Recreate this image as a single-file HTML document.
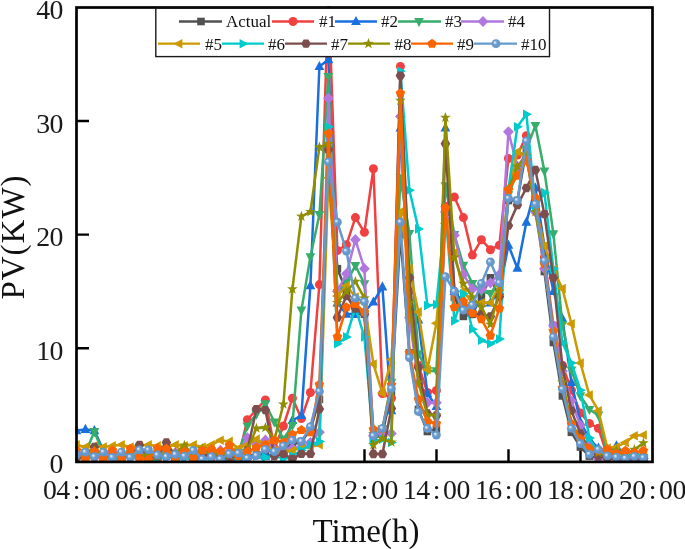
<!DOCTYPE html>
<html lang="en"><head><meta charset="utf-8"><title>PV forecast chart</title>
<style>html,body{margin:0;padding:0;background:#fff}svg{display:block}</style></head>
<body>
<svg width="685" height="549" viewBox="0 0 685 549">
<defs><radialGradient id="sg" cx="0.5" cy="0.5" r="0.5" fx="0.33" fy="0.33"><stop offset="0" stop-color="#eef4fb"/><stop offset="0.18" stop-color="#c4d8ee"/><stop offset="0.45" stop-color="#6c9dd0"/><stop offset="1" stop-color="#6093c8"/></radialGradient><g id="mA"><rect x="-3.8" y="-3.8" width="7.6" height="7.6" fill="#515151"/></g><g id="m1"><circle r="4.5" fill="#F14040"/></g><g id="m2"><polygon points="0.00,-5.60 4.90,3.60 -4.90,3.60" fill="#1A6FDF"/></g><g id="m3"><polygon points="0.00,5.60 4.90,-3.60 -4.90,-3.60" fill="#37AD6B"/></g><g id="m4"><polygon points="0.00,-5.60 5.40,0.00 0.00,5.60 -5.40,0.00" fill="#B177DE"/></g><g id="m5"><polygon points="-5.60,0.00 3.40,-4.80 3.40,4.80" fill="#CC9900"/></g><g id="m6"><polygon points="5.60,0.00 -3.40,-4.80 -3.40,4.80" fill="#00CBCC"/></g><g id="m7"><polygon points="4.80,0.00 2.40,4.16 -2.40,4.16 -4.80,0.00 -2.40,-4.16 2.40,-4.16" fill="#7D4E4E"/></g><g id="m8"><polygon points="0.00,-5.60 1.35,-1.86 5.33,-1.73 2.19,0.71 3.29,4.53 0.00,2.30 -3.29,4.53 -2.19,0.71 -5.33,-1.73 -1.35,-1.86" fill="#8E8E00"/></g><g id="m9"><polygon points="0.00,-5.00 4.76,-1.55 2.94,4.05 -2.94,4.05 -4.76,-1.55" fill="#FB6501"/></g><g id="m10"><circle r="4.4" fill="url(#sg)"/></g><clipPath id="cp"><rect x="75.2" y="6.1" width="578.6" height="457"/></clipPath></defs>
<rect width="685" height="549" fill="#ffffff"/>
<path d="M148.5 461.8 v-12.5 M220.5 461.8 v-12.5 M292.5 461.8 v-12.5 M364.5 461.8 v-12.5 M436.5 461.8 v-12.5 M508.5 461.8 v-12.5 M580.5 461.8 v-12.5 M76.5 348.2 h12.5 M76.5 234.6 h12.5 M76.5 121.0 h12.5" stroke="#000" stroke-width="2.4" fill="none"/>
<g clip-path="url(#cp)">
<polyline points="76.4,456.1 85.4,457.3 94.4,455.0 103.4,458.4 112.4,456.1 121.4,457.3 130.4,455.0 139.4,453.8 148.4,456.1 157.4,457.3 166.4,456.1 175.4,457.3 184.4,455.0 193.4,456.1 202.4,458.4 211.4,457.3 220.4,456.1 229.4,455.0 238.4,456.1 247.4,456.1 256.4,455.0 265.4,451.6 274.4,450.4 283.4,448.2 292.4,444.8 301.4,441.4 310.4,430.0 319.4,399.3 328.4,149.4 337.4,268.7 346.4,291.4 355.4,314.1 364.4,314.1 373.4,439.1 382.4,433.4 391.4,393.6 400.4,234.6 409.4,352.8 418.4,409.5 427.4,431.5 436.4,429.4 445.4,211.9 454.4,297.1 463.4,316.4 472.4,314.1 481.4,296.5 490.4,277.8 499.4,297.1 508.4,200.5 517.4,200.5 526.4,149.4 535.4,205.1 544.4,271.5 553.4,342.5 562.4,395.9 571.4,432.3 580.4,447.0 589.4,456.1 598.4,458.4 607.4,458.4 616.4,458.4 625.4,458.4 634.4,458.4 643.4,458.4" fill="none" stroke="#515151" stroke-width="2.5" stroke-linejoin="round"/>
<g><use href="#mA" x="76.4" y="456.1"/><use href="#mA" x="85.4" y="457.3"/><use href="#mA" x="94.4" y="455.0"/><use href="#mA" x="103.4" y="458.4"/><use href="#mA" x="112.4" y="456.1"/><use href="#mA" x="121.4" y="457.3"/><use href="#mA" x="130.4" y="455.0"/><use href="#mA" x="139.4" y="453.8"/><use href="#mA" x="148.4" y="456.1"/><use href="#mA" x="157.4" y="457.3"/><use href="#mA" x="166.4" y="456.1"/><use href="#mA" x="175.4" y="457.3"/><use href="#mA" x="184.4" y="455.0"/><use href="#mA" x="193.4" y="456.1"/><use href="#mA" x="202.4" y="458.4"/><use href="#mA" x="211.4" y="457.3"/><use href="#mA" x="220.4" y="456.1"/><use href="#mA" x="229.4" y="455.0"/><use href="#mA" x="238.4" y="456.1"/><use href="#mA" x="247.4" y="456.1"/><use href="#mA" x="256.4" y="455.0"/><use href="#mA" x="265.4" y="451.6"/><use href="#mA" x="274.4" y="450.4"/><use href="#mA" x="283.4" y="448.2"/><use href="#mA" x="292.4" y="444.8"/><use href="#mA" x="301.4" y="441.4"/><use href="#mA" x="310.4" y="430.0"/><use href="#mA" x="319.4" y="399.3"/><use href="#mA" x="328.4" y="149.4"/><use href="#mA" x="337.4" y="268.7"/><use href="#mA" x="346.4" y="291.4"/><use href="#mA" x="355.4" y="314.1"/><use href="#mA" x="364.4" y="314.1"/><use href="#mA" x="373.4" y="439.1"/><use href="#mA" x="382.4" y="433.4"/><use href="#mA" x="391.4" y="393.6"/><use href="#mA" x="400.4" y="234.6"/><use href="#mA" x="409.4" y="352.8"/><use href="#mA" x="418.4" y="409.5"/><use href="#mA" x="427.4" y="431.5"/><use href="#mA" x="436.4" y="429.4"/><use href="#mA" x="445.4" y="211.9"/><use href="#mA" x="454.4" y="297.1"/><use href="#mA" x="463.4" y="316.4"/><use href="#mA" x="472.4" y="314.1"/><use href="#mA" x="481.4" y="296.5"/><use href="#mA" x="490.4" y="277.8"/><use href="#mA" x="499.4" y="297.1"/><use href="#mA" x="508.4" y="200.5"/><use href="#mA" x="517.4" y="200.5"/><use href="#mA" x="526.4" y="149.4"/><use href="#mA" x="535.4" y="205.1"/><use href="#mA" x="544.4" y="271.5"/><use href="#mA" x="553.4" y="342.5"/><use href="#mA" x="562.4" y="395.9"/><use href="#mA" x="571.4" y="432.3"/><use href="#mA" x="580.4" y="447.0"/><use href="#mA" x="589.4" y="456.1"/><use href="#mA" x="598.4" y="458.4"/><use href="#mA" x="607.4" y="458.4"/><use href="#mA" x="616.4" y="458.4"/><use href="#mA" x="625.4" y="458.4"/><use href="#mA" x="634.4" y="458.4"/><use href="#mA" x="643.4" y="458.4"/></g>
<polyline points="76.4,455.0 85.4,456.1 94.4,457.3 103.4,455.0 112.4,458.4 121.4,456.1 130.4,455.0 139.4,457.3 148.4,456.1 157.4,458.4 166.4,455.0 175.4,457.3 184.4,456.1 193.4,458.4 202.4,456.1 211.4,457.3 220.4,458.4 229.4,460.7 238.4,457.3 247.4,419.8 256.4,409.5 265.4,399.9 274.4,448.2 283.4,426.0 292.4,398.2 301.4,418.6 310.4,392.5 319.4,284.6 328.4,-9.6 337.4,250.5 346.4,244.8 355.4,217.6 364.4,232.3 373.4,168.7 382.4,393.6 391.4,398.2 400.4,66.5 409.4,291.4 418.4,365.2 427.4,392.5 436.4,390.5 445.4,206.2 454.4,197.1 463.4,217.6 472.4,255.1 481.4,239.7 490.4,249.7 499.4,245.2 508.4,158.5 517.4,155.1 526.4,135.8 535.4,200.5 544.4,257.3 553.4,325.5 562.4,365.2 571.4,390.2 580.4,413.0 589.4,423.5 598.4,428.2 607.4,456.1 616.4,458.4 625.4,458.4 634.4,458.4 643.4,458.4" fill="none" stroke="#F14040" stroke-width="2.5" stroke-linejoin="round"/>
<g><use href="#m1" x="76.4" y="455.0"/><use href="#m1" x="85.4" y="456.1"/><use href="#m1" x="94.4" y="457.3"/><use href="#m1" x="103.4" y="455.0"/><use href="#m1" x="112.4" y="458.4"/><use href="#m1" x="121.4" y="456.1"/><use href="#m1" x="130.4" y="455.0"/><use href="#m1" x="139.4" y="457.3"/><use href="#m1" x="148.4" y="456.1"/><use href="#m1" x="157.4" y="458.4"/><use href="#m1" x="166.4" y="455.0"/><use href="#m1" x="175.4" y="457.3"/><use href="#m1" x="184.4" y="456.1"/><use href="#m1" x="193.4" y="458.4"/><use href="#m1" x="202.4" y="456.1"/><use href="#m1" x="211.4" y="457.3"/><use href="#m1" x="220.4" y="458.4"/><use href="#m1" x="229.4" y="460.7"/><use href="#m1" x="238.4" y="457.3"/><use href="#m1" x="247.4" y="419.8"/><use href="#m1" x="256.4" y="409.5"/><use href="#m1" x="265.4" y="399.9"/><use href="#m1" x="274.4" y="448.2"/><use href="#m1" x="283.4" y="426.0"/><use href="#m1" x="292.4" y="398.2"/><use href="#m1" x="301.4" y="418.6"/><use href="#m1" x="310.4" y="392.5"/><use href="#m1" x="319.4" y="284.6"/><use href="#m1" x="328.4" y="-9.6"/><use href="#m1" x="337.4" y="250.5"/><use href="#m1" x="346.4" y="244.8"/><use href="#m1" x="355.4" y="217.6"/><use href="#m1" x="364.4" y="232.3"/><use href="#m1" x="373.4" y="168.7"/><use href="#m1" x="382.4" y="393.6"/><use href="#m1" x="391.4" y="398.2"/><use href="#m1" x="400.4" y="66.5"/><use href="#m1" x="409.4" y="291.4"/><use href="#m1" x="418.4" y="365.2"/><use href="#m1" x="427.4" y="392.5"/><use href="#m1" x="436.4" y="390.5"/><use href="#m1" x="445.4" y="206.2"/><use href="#m1" x="454.4" y="197.1"/><use href="#m1" x="463.4" y="217.6"/><use href="#m1" x="472.4" y="255.1"/><use href="#m1" x="481.4" y="239.7"/><use href="#m1" x="490.4" y="249.7"/><use href="#m1" x="499.4" y="245.2"/><use href="#m1" x="508.4" y="158.5"/><use href="#m1" x="517.4" y="155.1"/><use href="#m1" x="526.4" y="135.8"/><use href="#m1" x="535.4" y="200.5"/><use href="#m1" x="544.4" y="257.3"/><use href="#m1" x="553.4" y="325.5"/><use href="#m1" x="562.4" y="365.2"/><use href="#m1" x="571.4" y="390.2"/><use href="#m1" x="580.4" y="413.0"/><use href="#m1" x="589.4" y="423.5"/><use href="#m1" x="598.4" y="428.2"/><use href="#m1" x="607.4" y="456.1"/><use href="#m1" x="616.4" y="458.4"/><use href="#m1" x="625.4" y="458.4"/><use href="#m1" x="634.4" y="458.4"/><use href="#m1" x="643.4" y="458.4"/></g>
<polyline points="76.4,430.6 85.4,429.4 94.4,430.6 103.4,450.4 112.4,456.1 121.4,457.3 130.4,455.0 139.4,456.1 148.4,457.3 157.4,456.1 166.4,455.0 175.4,457.3 184.4,456.1 193.4,457.3 202.4,456.1 211.4,455.0 220.4,457.3 229.4,456.1 238.4,457.3 247.4,456.1 256.4,455.0 265.4,456.1 274.4,453.8 283.4,448.2 292.4,420.3 301.4,415.5 310.4,285.7 319.4,66.5 328.4,59.7 337.4,302.8 346.4,314.1 355.4,314.1 364.4,311.9 373.4,302.0 382.4,286.9 391.4,410.7 400.4,127.8 409.4,302.8 418.4,319.8 427.4,393.6 436.4,406.5 445.4,127.8 454.4,291.4 463.4,302.8 472.4,308.5 481.4,302.8 490.4,302.8 499.4,291.4 508.4,245.2 517.4,268.2 526.4,222.1 535.4,188.0 544.4,246.0 553.4,291.4 562.4,318.7 571.4,382.3 580.4,422.0 589.4,439.1 598.4,448.2 607.4,452.7 616.4,445.9 625.4,457.3 634.4,457.3 643.4,457.3" fill="none" stroke="#1A6FDF" stroke-width="2.5" stroke-linejoin="round"/>
<g><use href="#m2" x="76.4" y="430.6"/><use href="#m2" x="85.4" y="429.4"/><use href="#m2" x="94.4" y="430.6"/><use href="#m2" x="103.4" y="450.4"/><use href="#m2" x="112.4" y="456.1"/><use href="#m2" x="121.4" y="457.3"/><use href="#m2" x="130.4" y="455.0"/><use href="#m2" x="139.4" y="456.1"/><use href="#m2" x="148.4" y="457.3"/><use href="#m2" x="157.4" y="456.1"/><use href="#m2" x="166.4" y="455.0"/><use href="#m2" x="175.4" y="457.3"/><use href="#m2" x="184.4" y="456.1"/><use href="#m2" x="193.4" y="457.3"/><use href="#m2" x="202.4" y="456.1"/><use href="#m2" x="211.4" y="455.0"/><use href="#m2" x="220.4" y="457.3"/><use href="#m2" x="229.4" y="456.1"/><use href="#m2" x="238.4" y="457.3"/><use href="#m2" x="247.4" y="456.1"/><use href="#m2" x="256.4" y="455.0"/><use href="#m2" x="265.4" y="456.1"/><use href="#m2" x="274.4" y="453.8"/><use href="#m2" x="283.4" y="448.2"/><use href="#m2" x="292.4" y="420.3"/><use href="#m2" x="301.4" y="415.5"/><use href="#m2" x="310.4" y="285.7"/><use href="#m2" x="319.4" y="66.5"/><use href="#m2" x="328.4" y="59.7"/><use href="#m2" x="337.4" y="302.8"/><use href="#m2" x="346.4" y="314.1"/><use href="#m2" x="355.4" y="314.1"/><use href="#m2" x="364.4" y="311.9"/><use href="#m2" x="373.4" y="302.0"/><use href="#m2" x="382.4" y="286.9"/><use href="#m2" x="391.4" y="410.7"/><use href="#m2" x="400.4" y="127.8"/><use href="#m2" x="409.4" y="302.8"/><use href="#m2" x="418.4" y="319.8"/><use href="#m2" x="427.4" y="393.6"/><use href="#m2" x="436.4" y="406.5"/><use href="#m2" x="445.4" y="127.8"/><use href="#m2" x="454.4" y="291.4"/><use href="#m2" x="463.4" y="302.8"/><use href="#m2" x="472.4" y="308.5"/><use href="#m2" x="481.4" y="302.8"/><use href="#m2" x="490.4" y="302.8"/><use href="#m2" x="499.4" y="291.4"/><use href="#m2" x="508.4" y="245.2"/><use href="#m2" x="517.4" y="268.2"/><use href="#m2" x="526.4" y="222.1"/><use href="#m2" x="535.4" y="188.0"/><use href="#m2" x="544.4" y="246.0"/><use href="#m2" x="553.4" y="291.4"/><use href="#m2" x="562.4" y="318.7"/><use href="#m2" x="571.4" y="382.3"/><use href="#m2" x="580.4" y="422.0"/><use href="#m2" x="589.4" y="439.1"/><use href="#m2" x="598.4" y="448.2"/><use href="#m2" x="607.4" y="452.7"/><use href="#m2" x="616.4" y="445.9"/><use href="#m2" x="625.4" y="457.3"/><use href="#m2" x="634.4" y="457.3"/><use href="#m2" x="643.4" y="457.3"/></g>
<polyline points="76.4,452.7 85.4,452.7 94.4,431.7 103.4,453.8 112.4,455.0 121.4,456.1 130.4,453.8 139.4,455.0 148.4,456.1 157.4,455.0 166.4,453.8 175.4,456.1 184.4,455.0 193.4,453.8 202.4,456.1 211.4,455.0 220.4,456.1 229.4,453.8 238.4,452.7 247.4,426.0 256.4,414.1 265.4,403.9 274.4,422.0 283.4,439.1 292.4,425.5 301.4,310.2 310.4,256.8 319.4,214.7 328.4,76.7 337.4,292.6 346.4,282.3 355.4,265.6 364.4,283.8 373.4,435.7 382.4,428.9 391.4,382.3 400.4,177.8 409.4,233.5 418.4,353.9 427.4,370.9 436.4,370.9 445.4,185.8 454.4,234.6 463.4,265.3 472.4,283.5 481.4,291.4 490.4,293.7 499.4,280.1 508.4,194.9 517.4,172.1 526.4,149.4 535.4,125.6 544.4,171.0 553.4,233.8 562.4,324.7 571.4,370.2 580.4,395.9 589.4,409.5 598.4,415.2 607.4,455.0 616.4,457.3 625.4,457.3 634.4,457.3 643.4,457.3" fill="none" stroke="#37AD6B" stroke-width="2.5" stroke-linejoin="round"/>
<g><use href="#m3" x="76.4" y="452.7"/><use href="#m3" x="85.4" y="452.7"/><use href="#m3" x="94.4" y="431.7"/><use href="#m3" x="103.4" y="453.8"/><use href="#m3" x="112.4" y="455.0"/><use href="#m3" x="121.4" y="456.1"/><use href="#m3" x="130.4" y="453.8"/><use href="#m3" x="139.4" y="455.0"/><use href="#m3" x="148.4" y="456.1"/><use href="#m3" x="157.4" y="455.0"/><use href="#m3" x="166.4" y="453.8"/><use href="#m3" x="175.4" y="456.1"/><use href="#m3" x="184.4" y="455.0"/><use href="#m3" x="193.4" y="453.8"/><use href="#m3" x="202.4" y="456.1"/><use href="#m3" x="211.4" y="455.0"/><use href="#m3" x="220.4" y="456.1"/><use href="#m3" x="229.4" y="453.8"/><use href="#m3" x="238.4" y="452.7"/><use href="#m3" x="247.4" y="426.0"/><use href="#m3" x="256.4" y="414.1"/><use href="#m3" x="265.4" y="403.9"/><use href="#m3" x="274.4" y="422.0"/><use href="#m3" x="283.4" y="439.1"/><use href="#m3" x="292.4" y="425.5"/><use href="#m3" x="301.4" y="310.2"/><use href="#m3" x="310.4" y="256.8"/><use href="#m3" x="319.4" y="214.7"/><use href="#m3" x="328.4" y="76.7"/><use href="#m3" x="337.4" y="292.6"/><use href="#m3" x="346.4" y="282.3"/><use href="#m3" x="355.4" y="265.6"/><use href="#m3" x="364.4" y="283.8"/><use href="#m3" x="373.4" y="435.7"/><use href="#m3" x="382.4" y="428.9"/><use href="#m3" x="391.4" y="382.3"/><use href="#m3" x="400.4" y="177.8"/><use href="#m3" x="409.4" y="233.5"/><use href="#m3" x="418.4" y="353.9"/><use href="#m3" x="427.4" y="370.9"/><use href="#m3" x="436.4" y="370.9"/><use href="#m3" x="445.4" y="185.8"/><use href="#m3" x="454.4" y="234.6"/><use href="#m3" x="463.4" y="265.3"/><use href="#m3" x="472.4" y="283.5"/><use href="#m3" x="481.4" y="291.4"/><use href="#m3" x="490.4" y="293.7"/><use href="#m3" x="499.4" y="280.1"/><use href="#m3" x="508.4" y="194.9"/><use href="#m3" x="517.4" y="172.1"/><use href="#m3" x="526.4" y="149.4"/><use href="#m3" x="535.4" y="125.6"/><use href="#m3" x="544.4" y="171.0"/><use href="#m3" x="553.4" y="233.8"/><use href="#m3" x="562.4" y="324.7"/><use href="#m3" x="571.4" y="370.2"/><use href="#m3" x="580.4" y="395.9"/><use href="#m3" x="589.4" y="409.5"/><use href="#m3" x="598.4" y="415.2"/><use href="#m3" x="607.4" y="455.0"/><use href="#m3" x="616.4" y="457.3"/><use href="#m3" x="625.4" y="457.3"/><use href="#m3" x="634.4" y="457.3"/><use href="#m3" x="643.4" y="457.3"/></g>
<polyline points="76.4,452.7 85.4,453.8 94.4,455.0 103.4,452.7 112.4,451.6 121.4,453.8 130.4,455.0 139.4,452.7 148.4,453.8 157.4,451.6 166.4,453.8 175.4,452.7 184.4,450.4 193.4,453.8 202.4,452.7 211.4,451.6 220.4,450.4 229.4,451.6 238.4,452.7 247.4,437.9 256.4,444.8 265.4,440.2 274.4,449.3 283.4,450.4 292.4,448.2 301.4,447.0 310.4,442.5 319.4,432.3 328.4,98.3 337.4,291.4 346.4,273.8 355.4,239.7 364.4,268.7 373.4,435.7 382.4,432.3 391.4,433.4 400.4,116.5 409.4,317.5 418.4,382.3 427.4,402.7 436.4,402.7 445.4,211.9 454.4,235.2 463.4,274.4 472.4,289.1 481.4,289.1 490.4,282.8 499.4,274.4 508.4,131.8 517.4,166.5 526.4,155.1 535.4,211.9 544.4,268.7 553.4,325.5 562.4,370.9 571.4,401.0 580.4,425.5 589.4,444.8 598.4,459.0 607.4,458.4 616.4,458.4 625.4,458.4 634.4,458.4 643.4,458.4" fill="none" stroke="#B177DE" stroke-width="2.5" stroke-linejoin="round"/>
<g><use href="#m4" x="76.4" y="452.7"/><use href="#m4" x="85.4" y="453.8"/><use href="#m4" x="94.4" y="455.0"/><use href="#m4" x="103.4" y="452.7"/><use href="#m4" x="112.4" y="451.6"/><use href="#m4" x="121.4" y="453.8"/><use href="#m4" x="130.4" y="455.0"/><use href="#m4" x="139.4" y="452.7"/><use href="#m4" x="148.4" y="453.8"/><use href="#m4" x="157.4" y="451.6"/><use href="#m4" x="166.4" y="453.8"/><use href="#m4" x="175.4" y="452.7"/><use href="#m4" x="184.4" y="450.4"/><use href="#m4" x="193.4" y="453.8"/><use href="#m4" x="202.4" y="452.7"/><use href="#m4" x="211.4" y="451.6"/><use href="#m4" x="220.4" y="450.4"/><use href="#m4" x="229.4" y="451.6"/><use href="#m4" x="238.4" y="452.7"/><use href="#m4" x="247.4" y="437.9"/><use href="#m4" x="256.4" y="444.8"/><use href="#m4" x="265.4" y="440.2"/><use href="#m4" x="274.4" y="449.3"/><use href="#m4" x="283.4" y="450.4"/><use href="#m4" x="292.4" y="448.2"/><use href="#m4" x="301.4" y="447.0"/><use href="#m4" x="310.4" y="442.5"/><use href="#m4" x="319.4" y="432.3"/><use href="#m4" x="328.4" y="98.3"/><use href="#m4" x="337.4" y="291.4"/><use href="#m4" x="346.4" y="273.8"/><use href="#m4" x="355.4" y="239.7"/><use href="#m4" x="364.4" y="268.7"/><use href="#m4" x="373.4" y="435.7"/><use href="#m4" x="382.4" y="432.3"/><use href="#m4" x="391.4" y="433.4"/><use href="#m4" x="400.4" y="116.5"/><use href="#m4" x="409.4" y="317.5"/><use href="#m4" x="418.4" y="382.3"/><use href="#m4" x="427.4" y="402.7"/><use href="#m4" x="436.4" y="402.7"/><use href="#m4" x="445.4" y="211.9"/><use href="#m4" x="454.4" y="235.2"/><use href="#m4" x="463.4" y="274.4"/><use href="#m4" x="472.4" y="289.1"/><use href="#m4" x="481.4" y="289.1"/><use href="#m4" x="490.4" y="282.8"/><use href="#m4" x="499.4" y="274.4"/><use href="#m4" x="508.4" y="131.8"/><use href="#m4" x="517.4" y="166.5"/><use href="#m4" x="526.4" y="155.1"/><use href="#m4" x="535.4" y="211.9"/><use href="#m4" x="544.4" y="268.7"/><use href="#m4" x="553.4" y="325.5"/><use href="#m4" x="562.4" y="370.9"/><use href="#m4" x="571.4" y="401.0"/><use href="#m4" x="580.4" y="425.5"/><use href="#m4" x="589.4" y="444.8"/><use href="#m4" x="598.4" y="459.0"/><use href="#m4" x="607.4" y="458.4"/><use href="#m4" x="616.4" y="458.4"/><use href="#m4" x="625.4" y="458.4"/><use href="#m4" x="634.4" y="458.4"/><use href="#m4" x="643.4" y="458.4"/></g>
<polyline points="76.4,444.8 85.4,447.0 94.4,445.9 103.4,447.0 112.4,445.9 121.4,444.8 130.4,447.0 139.4,445.9 148.4,444.8 157.4,445.9 166.4,447.0 175.4,444.8 184.4,445.9 193.4,444.8 202.4,447.0 211.4,444.8 220.4,440.2 229.4,441.4 238.4,448.2 247.4,444.8 256.4,439.1 265.4,444.8 274.4,450.4 283.4,452.7 292.4,450.4 301.4,448.2 310.4,447.0 319.4,444.8 328.4,177.8 337.4,296.0 346.4,285.7 355.4,297.1 364.4,302.8 373.4,364.1 382.4,393.1 391.4,359.6 400.4,211.9 409.4,268.7 418.4,311.9 427.4,369.8 436.4,323.2 445.4,223.3 454.4,252.8 463.4,291.4 472.4,302.8 481.4,302.8 490.4,302.8 499.4,285.7 508.4,189.2 517.4,151.7 526.4,155.1 535.4,206.2 544.4,246.0 553.4,269.8 562.4,288.6 571.4,323.7 580.4,363.0 589.4,395.1 598.4,410.7 607.4,448.2 616.4,447.0 625.4,442.5 634.4,435.7 643.4,435.0" fill="none" stroke="#CC9900" stroke-width="2.5" stroke-linejoin="round"/>
<g><use href="#m5" x="76.4" y="444.8"/><use href="#m5" x="85.4" y="447.0"/><use href="#m5" x="94.4" y="445.9"/><use href="#m5" x="103.4" y="447.0"/><use href="#m5" x="112.4" y="445.9"/><use href="#m5" x="121.4" y="444.8"/><use href="#m5" x="130.4" y="447.0"/><use href="#m5" x="139.4" y="445.9"/><use href="#m5" x="148.4" y="444.8"/><use href="#m5" x="157.4" y="445.9"/><use href="#m5" x="166.4" y="447.0"/><use href="#m5" x="175.4" y="444.8"/><use href="#m5" x="184.4" y="445.9"/><use href="#m5" x="193.4" y="444.8"/><use href="#m5" x="202.4" y="447.0"/><use href="#m5" x="211.4" y="444.8"/><use href="#m5" x="220.4" y="440.2"/><use href="#m5" x="229.4" y="441.4"/><use href="#m5" x="238.4" y="448.2"/><use href="#m5" x="247.4" y="444.8"/><use href="#m5" x="256.4" y="439.1"/><use href="#m5" x="265.4" y="444.8"/><use href="#m5" x="274.4" y="450.4"/><use href="#m5" x="283.4" y="452.7"/><use href="#m5" x="292.4" y="450.4"/><use href="#m5" x="301.4" y="448.2"/><use href="#m5" x="310.4" y="447.0"/><use href="#m5" x="319.4" y="444.8"/><use href="#m5" x="328.4" y="177.8"/><use href="#m5" x="337.4" y="296.0"/><use href="#m5" x="346.4" y="285.7"/><use href="#m5" x="355.4" y="297.1"/><use href="#m5" x="364.4" y="302.8"/><use href="#m5" x="373.4" y="364.1"/><use href="#m5" x="382.4" y="393.1"/><use href="#m5" x="391.4" y="359.6"/><use href="#m5" x="400.4" y="211.9"/><use href="#m5" x="409.4" y="268.7"/><use href="#m5" x="418.4" y="311.9"/><use href="#m5" x="427.4" y="369.8"/><use href="#m5" x="436.4" y="323.2"/><use href="#m5" x="445.4" y="223.3"/><use href="#m5" x="454.4" y="252.8"/><use href="#m5" x="463.4" y="291.4"/><use href="#m5" x="472.4" y="302.8"/><use href="#m5" x="481.4" y="302.8"/><use href="#m5" x="490.4" y="302.8"/><use href="#m5" x="499.4" y="285.7"/><use href="#m5" x="508.4" y="189.2"/><use href="#m5" x="517.4" y="151.7"/><use href="#m5" x="526.4" y="155.1"/><use href="#m5" x="535.4" y="206.2"/><use href="#m5" x="544.4" y="246.0"/><use href="#m5" x="553.4" y="269.8"/><use href="#m5" x="562.4" y="288.6"/><use href="#m5" x="571.4" y="323.7"/><use href="#m5" x="580.4" y="363.0"/><use href="#m5" x="589.4" y="395.1"/><use href="#m5" x="598.4" y="410.7"/><use href="#m5" x="607.4" y="448.2"/><use href="#m5" x="616.4" y="447.0"/><use href="#m5" x="625.4" y="442.5"/><use href="#m5" x="634.4" y="435.7"/><use href="#m5" x="643.4" y="435.0"/></g>
<polyline points="76.4,457.3 85.4,458.4 94.4,456.1 103.4,457.3 112.4,458.4 121.4,457.3 130.4,456.1 139.4,458.4 148.4,457.3 157.4,458.4 166.4,457.3 175.4,456.1 184.4,458.4 193.4,457.3 202.4,458.4 211.4,457.3 220.4,458.4 229.4,457.3 238.4,458.4 247.4,457.3 256.4,456.1 265.4,457.3 274.4,456.1 283.4,458.4 292.4,456.1 301.4,450.4 310.4,444.8 319.4,441.4 328.4,126.7 337.4,343.7 346.4,336.9 355.4,307.3 364.4,336.9 373.4,441.4 382.4,439.1 391.4,442.5 400.4,71.1 409.4,190.3 418.4,228.9 427.4,305.6 436.4,304.6 445.4,211.9 454.4,320.9 463.4,293.7 472.4,329.2 481.4,340.3 490.4,343.7 499.4,339.1 508.4,189.2 517.4,126.7 526.4,114.2 535.4,206.2 544.4,192.6 553.4,268.7 562.4,342.5 571.4,363.0 580.4,390.2 589.4,437.9 598.4,455.0 607.4,458.4 616.4,458.4 625.4,456.1 634.4,452.7 643.4,456.1" fill="none" stroke="#00CBCC" stroke-width="2.5" stroke-linejoin="round"/>
<g><use href="#m6" x="76.4" y="457.3"/><use href="#m6" x="85.4" y="458.4"/><use href="#m6" x="94.4" y="456.1"/><use href="#m6" x="103.4" y="457.3"/><use href="#m6" x="112.4" y="458.4"/><use href="#m6" x="121.4" y="457.3"/><use href="#m6" x="130.4" y="456.1"/><use href="#m6" x="139.4" y="458.4"/><use href="#m6" x="148.4" y="457.3"/><use href="#m6" x="157.4" y="458.4"/><use href="#m6" x="166.4" y="457.3"/><use href="#m6" x="175.4" y="456.1"/><use href="#m6" x="184.4" y="458.4"/><use href="#m6" x="193.4" y="457.3"/><use href="#m6" x="202.4" y="458.4"/><use href="#m6" x="211.4" y="457.3"/><use href="#m6" x="220.4" y="458.4"/><use href="#m6" x="229.4" y="457.3"/><use href="#m6" x="238.4" y="458.4"/><use href="#m6" x="247.4" y="457.3"/><use href="#m6" x="256.4" y="456.1"/><use href="#m6" x="265.4" y="457.3"/><use href="#m6" x="274.4" y="456.1"/><use href="#m6" x="283.4" y="458.4"/><use href="#m6" x="292.4" y="456.1"/><use href="#m6" x="301.4" y="450.4"/><use href="#m6" x="310.4" y="444.8"/><use href="#m6" x="319.4" y="441.4"/><use href="#m6" x="328.4" y="126.7"/><use href="#m6" x="337.4" y="343.7"/><use href="#m6" x="346.4" y="336.9"/><use href="#m6" x="355.4" y="307.3"/><use href="#m6" x="364.4" y="336.9"/><use href="#m6" x="373.4" y="441.4"/><use href="#m6" x="382.4" y="439.1"/><use href="#m6" x="391.4" y="442.5"/><use href="#m6" x="400.4" y="71.1"/><use href="#m6" x="409.4" y="190.3"/><use href="#m6" x="418.4" y="228.9"/><use href="#m6" x="427.4" y="305.6"/><use href="#m6" x="436.4" y="304.6"/><use href="#m6" x="445.4" y="211.9"/><use href="#m6" x="454.4" y="320.9"/><use href="#m6" x="463.4" y="293.7"/><use href="#m6" x="472.4" y="329.2"/><use href="#m6" x="481.4" y="340.3"/><use href="#m6" x="490.4" y="343.7"/><use href="#m6" x="499.4" y="339.1"/><use href="#m6" x="508.4" y="189.2"/><use href="#m6" x="517.4" y="126.7"/><use href="#m6" x="526.4" y="114.2"/><use href="#m6" x="535.4" y="206.2"/><use href="#m6" x="544.4" y="192.6"/><use href="#m6" x="553.4" y="268.7"/><use href="#m6" x="562.4" y="342.5"/><use href="#m6" x="571.4" y="363.0"/><use href="#m6" x="580.4" y="390.2"/><use href="#m6" x="589.4" y="437.9"/><use href="#m6" x="598.4" y="455.0"/><use href="#m6" x="607.4" y="458.4"/><use href="#m6" x="616.4" y="458.4"/><use href="#m6" x="625.4" y="456.1"/><use href="#m6" x="634.4" y="452.7"/><use href="#m6" x="643.4" y="456.1"/></g>
<polyline points="76.4,458.4 85.4,456.1 94.4,447.0 103.4,457.3 112.4,456.1 121.4,457.3 130.4,456.1 139.4,444.8 148.4,458.4 157.4,456.1 166.4,442.5 175.4,456.1 184.4,455.0 193.4,457.3 202.4,456.1 211.4,455.0 220.4,456.1 229.4,457.3 238.4,456.1 247.4,450.4 256.4,409.1 265.4,410.1 274.4,456.1 283.4,453.8 292.4,458.8 301.4,453.8 310.4,453.8 319.4,409.1 328.4,149.4 337.4,317.5 346.4,296.0 355.4,308.5 364.4,314.1 373.4,454.0 382.4,454.0 391.4,408.4 400.4,75.6 409.4,277.8 418.4,367.5 427.4,413.5 436.4,415.5 445.4,143.7 454.4,291.4 463.4,308.5 472.4,314.1 481.4,314.1 490.4,316.4 499.4,296.5 508.4,225.5 517.4,205.1 526.4,188.0 535.4,169.9 544.4,214.2 553.4,277.8 562.4,366.4 571.4,410.7 580.4,433.4 589.4,450.4 598.4,456.1 607.4,458.4 616.4,458.4 625.4,458.4 634.4,458.4 643.4,458.4" fill="none" stroke="#7D4E4E" stroke-width="2.5" stroke-linejoin="round"/>
<g><use href="#m7" x="76.4" y="458.4"/><use href="#m7" x="85.4" y="456.1"/><use href="#m7" x="94.4" y="447.0"/><use href="#m7" x="103.4" y="457.3"/><use href="#m7" x="112.4" y="456.1"/><use href="#m7" x="121.4" y="457.3"/><use href="#m7" x="130.4" y="456.1"/><use href="#m7" x="139.4" y="444.8"/><use href="#m7" x="148.4" y="458.4"/><use href="#m7" x="157.4" y="456.1"/><use href="#m7" x="166.4" y="442.5"/><use href="#m7" x="175.4" y="456.1"/><use href="#m7" x="184.4" y="455.0"/><use href="#m7" x="193.4" y="457.3"/><use href="#m7" x="202.4" y="456.1"/><use href="#m7" x="211.4" y="455.0"/><use href="#m7" x="220.4" y="456.1"/><use href="#m7" x="229.4" y="457.3"/><use href="#m7" x="238.4" y="456.1"/><use href="#m7" x="247.4" y="450.4"/><use href="#m7" x="256.4" y="409.1"/><use href="#m7" x="265.4" y="410.1"/><use href="#m7" x="274.4" y="456.1"/><use href="#m7" x="283.4" y="453.8"/><use href="#m7" x="292.4" y="458.8"/><use href="#m7" x="301.4" y="453.8"/><use href="#m7" x="310.4" y="453.8"/><use href="#m7" x="319.4" y="409.1"/><use href="#m7" x="328.4" y="149.4"/><use href="#m7" x="337.4" y="317.5"/><use href="#m7" x="346.4" y="296.0"/><use href="#m7" x="355.4" y="308.5"/><use href="#m7" x="364.4" y="314.1"/><use href="#m7" x="373.4" y="454.0"/><use href="#m7" x="382.4" y="454.0"/><use href="#m7" x="391.4" y="408.4"/><use href="#m7" x="400.4" y="75.6"/><use href="#m7" x="409.4" y="277.8"/><use href="#m7" x="418.4" y="367.5"/><use href="#m7" x="427.4" y="413.5"/><use href="#m7" x="436.4" y="415.5"/><use href="#m7" x="445.4" y="143.7"/><use href="#m7" x="454.4" y="291.4"/><use href="#m7" x="463.4" y="308.5"/><use href="#m7" x="472.4" y="314.1"/><use href="#m7" x="481.4" y="314.1"/><use href="#m7" x="490.4" y="316.4"/><use href="#m7" x="499.4" y="296.5"/><use href="#m7" x="508.4" y="225.5"/><use href="#m7" x="517.4" y="205.1"/><use href="#m7" x="526.4" y="188.0"/><use href="#m7" x="535.4" y="169.9"/><use href="#m7" x="544.4" y="214.2"/><use href="#m7" x="553.4" y="277.8"/><use href="#m7" x="562.4" y="366.4"/><use href="#m7" x="571.4" y="410.7"/><use href="#m7" x="580.4" y="433.4"/><use href="#m7" x="589.4" y="450.4"/><use href="#m7" x="598.4" y="456.1"/><use href="#m7" x="607.4" y="458.4"/><use href="#m7" x="616.4" y="458.4"/><use href="#m7" x="625.4" y="458.4"/><use href="#m7" x="634.4" y="458.4"/><use href="#m7" x="643.4" y="458.4"/></g>
<polyline points="76.4,455.0 85.4,456.1 94.4,450.4 103.4,455.0 112.4,456.1 121.4,455.0 130.4,453.8 139.4,456.1 148.4,455.0 157.4,456.1 166.4,453.8 175.4,452.7 184.4,445.3 193.4,455.0 202.4,448.7 211.4,455.0 220.4,453.8 229.4,455.0 238.4,456.1 247.4,450.4 256.4,428.3 265.4,427.7 274.4,439.6 283.4,404.3 292.4,289.1 301.4,216.4 310.4,211.9 319.4,147.2 328.4,143.7 337.4,302.8 346.4,291.4 355.4,281.6 364.4,298.2 373.4,444.9 382.4,438.5 391.4,442.3 400.4,100.6 409.4,302.8 418.4,382.3 427.4,415.2 436.4,415.2 445.4,117.6 454.4,257.3 463.4,283.5 472.4,297.1 481.4,307.3 490.4,324.4 499.4,291.4 508.4,189.2 517.4,166.5 526.4,155.1 535.4,211.9 544.4,263.0 553.4,331.2 562.4,382.3 571.4,422.0 580.4,439.1 589.4,450.4 598.4,452.7 607.4,455.0 616.4,450.7 625.4,453.8 634.4,449.5 643.4,443.1" fill="none" stroke="#8E8E00" stroke-width="2.5" stroke-linejoin="round"/>
<g><use href="#m8" x="76.4" y="455.0"/><use href="#m8" x="85.4" y="456.1"/><use href="#m8" x="94.4" y="450.4"/><use href="#m8" x="103.4" y="455.0"/><use href="#m8" x="112.4" y="456.1"/><use href="#m8" x="121.4" y="455.0"/><use href="#m8" x="130.4" y="453.8"/><use href="#m8" x="139.4" y="456.1"/><use href="#m8" x="148.4" y="455.0"/><use href="#m8" x="157.4" y="456.1"/><use href="#m8" x="166.4" y="453.8"/><use href="#m8" x="175.4" y="452.7"/><use href="#m8" x="184.4" y="445.3"/><use href="#m8" x="193.4" y="455.0"/><use href="#m8" x="202.4" y="448.7"/><use href="#m8" x="211.4" y="455.0"/><use href="#m8" x="220.4" y="453.8"/><use href="#m8" x="229.4" y="455.0"/><use href="#m8" x="238.4" y="456.1"/><use href="#m8" x="247.4" y="450.4"/><use href="#m8" x="256.4" y="428.3"/><use href="#m8" x="265.4" y="427.7"/><use href="#m8" x="274.4" y="439.6"/><use href="#m8" x="283.4" y="404.3"/><use href="#m8" x="292.4" y="289.1"/><use href="#m8" x="301.4" y="216.4"/><use href="#m8" x="310.4" y="211.9"/><use href="#m8" x="319.4" y="147.2"/><use href="#m8" x="328.4" y="143.7"/><use href="#m8" x="337.4" y="302.8"/><use href="#m8" x="346.4" y="291.4"/><use href="#m8" x="355.4" y="281.6"/><use href="#m8" x="364.4" y="298.2"/><use href="#m8" x="373.4" y="444.9"/><use href="#m8" x="382.4" y="438.5"/><use href="#m8" x="391.4" y="442.3"/><use href="#m8" x="400.4" y="100.6"/><use href="#m8" x="409.4" y="302.8"/><use href="#m8" x="418.4" y="382.3"/><use href="#m8" x="427.4" y="415.2"/><use href="#m8" x="436.4" y="415.2"/><use href="#m8" x="445.4" y="117.6"/><use href="#m8" x="454.4" y="257.3"/><use href="#m8" x="463.4" y="283.5"/><use href="#m8" x="472.4" y="297.1"/><use href="#m8" x="481.4" y="307.3"/><use href="#m8" x="490.4" y="324.4"/><use href="#m8" x="499.4" y="291.4"/><use href="#m8" x="508.4" y="189.2"/><use href="#m8" x="517.4" y="166.5"/><use href="#m8" x="526.4" y="155.1"/><use href="#m8" x="535.4" y="211.9"/><use href="#m8" x="544.4" y="263.0"/><use href="#m8" x="553.4" y="331.2"/><use href="#m8" x="562.4" y="382.3"/><use href="#m8" x="571.4" y="422.0"/><use href="#m8" x="580.4" y="439.1"/><use href="#m8" x="589.4" y="450.4"/><use href="#m8" x="598.4" y="452.7"/><use href="#m8" x="607.4" y="455.0"/><use href="#m8" x="616.4" y="450.7"/><use href="#m8" x="625.4" y="453.8"/><use href="#m8" x="634.4" y="449.5"/><use href="#m8" x="643.4" y="443.1"/></g>
<polyline points="76.4,450.4 85.4,459.5 94.4,451.6 103.4,459.5 112.4,450.4 121.4,458.4 130.4,448.7 139.4,458.4 148.4,459.5 157.4,448.2 166.4,448.7 175.4,457.3 184.4,451.6 193.4,458.4 202.4,450.4 211.4,449.3 220.4,451.6 229.4,445.3 238.4,456.1 247.4,451.6 256.4,447.6 265.4,444.8 274.4,440.2 283.4,442.5 292.4,434.5 301.4,430.0 310.4,432.3 319.4,384.6 328.4,133.5 337.4,336.9 346.4,307.3 355.4,303.9 364.4,311.9 373.4,429.4 382.4,428.9 391.4,384.9 400.4,93.2 409.4,352.8 418.4,399.3 427.4,421.5 436.4,423.5 445.4,207.9 454.4,307.3 463.4,301.6 472.4,313.0 481.4,319.2 490.4,335.7 499.4,308.5 508.4,189.8 517.4,175.6 526.4,160.8 535.4,197.7 544.4,264.2 553.4,331.2 562.4,388.0 571.4,424.3 580.4,439.1 589.4,448.2 598.4,450.4 607.4,449.0 616.4,453.8 625.4,450.7 634.4,452.7 643.4,450.7" fill="none" stroke="#FB6501" stroke-width="2.5" stroke-linejoin="round"/>
<g><use href="#m9" x="76.4" y="450.4"/><use href="#m9" x="85.4" y="459.5"/><use href="#m9" x="94.4" y="451.6"/><use href="#m9" x="103.4" y="459.5"/><use href="#m9" x="112.4" y="450.4"/><use href="#m9" x="121.4" y="458.4"/><use href="#m9" x="130.4" y="448.7"/><use href="#m9" x="139.4" y="458.4"/><use href="#m9" x="148.4" y="459.5"/><use href="#m9" x="157.4" y="448.2"/><use href="#m9" x="166.4" y="448.7"/><use href="#m9" x="175.4" y="457.3"/><use href="#m9" x="184.4" y="451.6"/><use href="#m9" x="193.4" y="458.4"/><use href="#m9" x="202.4" y="450.4"/><use href="#m9" x="211.4" y="449.3"/><use href="#m9" x="220.4" y="451.6"/><use href="#m9" x="229.4" y="445.3"/><use href="#m9" x="238.4" y="456.1"/><use href="#m9" x="247.4" y="451.6"/><use href="#m9" x="256.4" y="447.6"/><use href="#m9" x="265.4" y="444.8"/><use href="#m9" x="274.4" y="440.2"/><use href="#m9" x="283.4" y="442.5"/><use href="#m9" x="292.4" y="434.5"/><use href="#m9" x="301.4" y="430.0"/><use href="#m9" x="310.4" y="432.3"/><use href="#m9" x="319.4" y="384.6"/><use href="#m9" x="328.4" y="133.5"/><use href="#m9" x="337.4" y="336.9"/><use href="#m9" x="346.4" y="307.3"/><use href="#m9" x="355.4" y="303.9"/><use href="#m9" x="364.4" y="311.9"/><use href="#m9" x="373.4" y="429.4"/><use href="#m9" x="382.4" y="428.9"/><use href="#m9" x="391.4" y="384.9"/><use href="#m9" x="400.4" y="93.2"/><use href="#m9" x="409.4" y="352.8"/><use href="#m9" x="418.4" y="399.3"/><use href="#m9" x="427.4" y="421.5"/><use href="#m9" x="436.4" y="423.5"/><use href="#m9" x="445.4" y="207.9"/><use href="#m9" x="454.4" y="307.3"/><use href="#m9" x="463.4" y="301.6"/><use href="#m9" x="472.4" y="313.0"/><use href="#m9" x="481.4" y="319.2"/><use href="#m9" x="490.4" y="335.7"/><use href="#m9" x="499.4" y="308.5"/><use href="#m9" x="508.4" y="189.8"/><use href="#m9" x="517.4" y="175.6"/><use href="#m9" x="526.4" y="160.8"/><use href="#m9" x="535.4" y="197.7"/><use href="#m9" x="544.4" y="264.2"/><use href="#m9" x="553.4" y="331.2"/><use href="#m9" x="562.4" y="388.0"/><use href="#m9" x="571.4" y="424.3"/><use href="#m9" x="580.4" y="439.1"/><use href="#m9" x="589.4" y="448.2"/><use href="#m9" x="598.4" y="450.4"/><use href="#m9" x="607.4" y="449.0"/><use href="#m9" x="616.4" y="453.8"/><use href="#m9" x="625.4" y="450.7"/><use href="#m9" x="634.4" y="452.7"/><use href="#m9" x="643.4" y="450.7"/></g>
<polyline points="76.4,455.0 85.4,452.1 94.4,456.7 103.4,452.1 112.4,457.3 121.4,452.1 130.4,457.3 139.4,449.9 148.4,449.9 157.4,455.0 166.4,456.7 175.4,454.4 184.4,456.1 193.4,450.4 202.4,459.0 211.4,456.7 220.4,459.0 229.4,453.8 238.4,453.2 247.4,458.1 256.4,455.6 265.4,449.3 274.4,451.6 283.4,445.9 292.4,440.2 301.4,441.4 310.4,426.6 319.4,391.4 328.4,161.9 337.4,222.1 346.4,251.1 355.4,298.2 364.4,301.6 373.4,435.8 382.4,428.5 391.4,388.5 400.4,222.1 409.4,357.6 418.4,411.5 427.4,428.5 436.4,435.1 445.4,276.6 454.4,291.4 463.4,310.2 472.4,305.0 481.4,283.5 490.4,261.9 499.4,282.8 508.4,198.3 517.4,200.5 526.4,140.9 535.4,204.0 544.4,260.7 553.4,336.9 562.4,389.1 571.4,428.3 580.4,443.6 589.4,454.3 598.4,449.5 607.4,455.9 616.4,457.1 625.4,458.3 634.4,456.5 643.4,457.7" fill="none" stroke="#6699CC" stroke-width="2.5" stroke-linejoin="round"/>
<g><use href="#m10" x="76.4" y="455.0"/><use href="#m10" x="85.4" y="452.1"/><use href="#m10" x="94.4" y="456.7"/><use href="#m10" x="103.4" y="452.1"/><use href="#m10" x="112.4" y="457.3"/><use href="#m10" x="121.4" y="452.1"/><use href="#m10" x="130.4" y="457.3"/><use href="#m10" x="139.4" y="449.9"/><use href="#m10" x="148.4" y="449.9"/><use href="#m10" x="157.4" y="455.0"/><use href="#m10" x="166.4" y="456.7"/><use href="#m10" x="175.4" y="454.4"/><use href="#m10" x="184.4" y="456.1"/><use href="#m10" x="193.4" y="450.4"/><use href="#m10" x="202.4" y="459.0"/><use href="#m10" x="211.4" y="456.7"/><use href="#m10" x="220.4" y="459.0"/><use href="#m10" x="229.4" y="453.8"/><use href="#m10" x="238.4" y="453.2"/><use href="#m10" x="247.4" y="458.1"/><use href="#m10" x="256.4" y="455.6"/><use href="#m10" x="265.4" y="449.3"/><use href="#m10" x="274.4" y="451.6"/><use href="#m10" x="283.4" y="445.9"/><use href="#m10" x="292.4" y="440.2"/><use href="#m10" x="301.4" y="441.4"/><use href="#m10" x="310.4" y="426.6"/><use href="#m10" x="319.4" y="391.4"/><use href="#m10" x="328.4" y="161.9"/><use href="#m10" x="337.4" y="222.1"/><use href="#m10" x="346.4" y="251.1"/><use href="#m10" x="355.4" y="298.2"/><use href="#m10" x="364.4" y="301.6"/><use href="#m10" x="373.4" y="435.8"/><use href="#m10" x="382.4" y="428.5"/><use href="#m10" x="391.4" y="388.5"/><use href="#m10" x="400.4" y="222.1"/><use href="#m10" x="409.4" y="357.6"/><use href="#m10" x="418.4" y="411.5"/><use href="#m10" x="427.4" y="428.5"/><use href="#m10" x="436.4" y="435.1"/><use href="#m10" x="445.4" y="276.6"/><use href="#m10" x="454.4" y="291.4"/><use href="#m10" x="463.4" y="310.2"/><use href="#m10" x="472.4" y="305.0"/><use href="#m10" x="481.4" y="283.5"/><use href="#m10" x="490.4" y="261.9"/><use href="#m10" x="499.4" y="282.8"/><use href="#m10" x="508.4" y="198.3"/><use href="#m10" x="517.4" y="200.5"/><use href="#m10" x="526.4" y="140.9"/><use href="#m10" x="535.4" y="204.0"/><use href="#m10" x="544.4" y="260.7"/><use href="#m10" x="553.4" y="336.9"/><use href="#m10" x="562.4" y="389.1"/><use href="#m10" x="571.4" y="428.3"/><use href="#m10" x="580.4" y="443.6"/><use href="#m10" x="589.4" y="454.3"/><use href="#m10" x="598.4" y="449.5"/><use href="#m10" x="607.4" y="455.9"/><use href="#m10" x="616.4" y="457.1"/><use href="#m10" x="625.4" y="458.3"/><use href="#m10" x="634.4" y="456.5"/><use href="#m10" x="643.4" y="457.7"/></g>
</g>
<rect x="76.5" y="7.5" width="576.0" height="454.4" fill="none" stroke="#000" stroke-width="2.7"/>
<g font-family="'Liberation Serif', serif" font-size="27.8px" fill="#1a1a1a">
<text x="42.9 56.3 72.7 83.1 96.5" y="498.8">04:00</text>
<text x="114.9 128.3 144.7 155.1 168.5" y="498.8">06:00</text>
<text x="186.9 200.3 216.7 227.1 240.5" y="498.8">08:00</text>
<text x="258.9 272.3 288.7 299.1 312.5" y="498.8">10:00</text>
<text x="330.9 344.3 360.7 371.1 384.5" y="498.8">12:00</text>
<text x="402.9 416.3 432.7 443.1 456.5" y="498.8">14:00</text>
<text x="474.9 488.3 504.7 515.1 528.5" y="498.8">16:00</text>
<text x="546.9 560.3 576.7 587.1 600.5" y="498.8">18:00</text>
<text x="618.9 632.3 648.7 659.1 672.5" y="498.8">20:00</text>
<text x="49.6" y="473.4">0</text>
<text x="36.2 49.6" y="359.8">10</text>
<text x="36.2 49.6" y="246.2">20</text>
<text x="36.2 49.6" y="132.6">30</text>
<text x="36.2 49.6" y="19.0">40</text>
</g>
<text x="366" y="541.6" text-anchor="middle" font-family="'Liberation Serif', serif" font-size="33px" fill="#111">Time(h)</text>
<text transform="translate(23.5,237) rotate(-90)" text-anchor="middle" letter-spacing="1" font-family="'Liberation Serif', serif" font-size="33px" fill="#111">PV(KW)</text>
<rect x="155.8" y="8.3" width="393.7" height="48.3" fill="#ffffff" stroke="#1a1a1a" stroke-width="1.4"/>
<g font-family="'Liberation Serif', serif" font-size="17px" fill="#111">
<path d="M179.0 21.5 H222.0" stroke="#515151" stroke-width="2.3"/><use href="#mA" x="201.0" y="21.5"/><text x="226.0" y="27.3">Actual</text>
<path d="M272.0 21.5 H314.0" stroke="#F14040" stroke-width="2.3"/><use href="#m1" x="293.0" y="21.5"/><text x="319.0" y="27.3">#1</text>
<path d="M335.0 21.5 H377.0" stroke="#1A6FDF" stroke-width="2.3"/><use href="#m2" x="356.0" y="21.5"/><text x="381.0" y="27.3">#2</text>
<path d="M398.0 21.5 H441.0" stroke="#37AD6B" stroke-width="2.3"/><use href="#m3" x="419.0" y="21.5"/><text x="445.0" y="27.3">#3</text>
<path d="M461.0 21.5 H504.0" stroke="#B177DE" stroke-width="2.3"/><use href="#m4" x="483.0" y="21.5"/><text x="508.0" y="27.3">#4</text>
<path d="M158.0 43.7 H200.0" stroke="#CC9900" stroke-width="2.3"/><use href="#m5" x="179.0" y="43.7"/><text x="205.0" y="50.2">#5</text>
<path d="M222.0 43.7 H264.0" stroke="#00CBCC" stroke-width="2.3"/><use href="#m6" x="243.0" y="43.7"/><text x="268.0" y="50.2">#6</text>
<path d="M285.0 43.7 H327.0" stroke="#7D4E4E" stroke-width="2.3"/><use href="#m7" x="306.0" y="43.7"/><text x="331.0" y="50.2">#7</text>
<path d="M348.0 43.7 H390.0" stroke="#8E8E00" stroke-width="2.3"/><use href="#m8" x="368.5" y="43.7"/><text x="394.5" y="50.2">#8</text>
<path d="M411.0 43.7 H453.0" stroke="#FB6501" stroke-width="2.3"/><use href="#m9" x="432.0" y="43.7"/><text x="457.0" y="50.2">#9</text>
<path d="M474.0 43.7 H517.0" stroke="#6699CC" stroke-width="2.3"/><use href="#m10" x="496.0" y="43.7"/><text x="521.0" y="50.2">#10</text>
</g>
</svg>
</body></html>
